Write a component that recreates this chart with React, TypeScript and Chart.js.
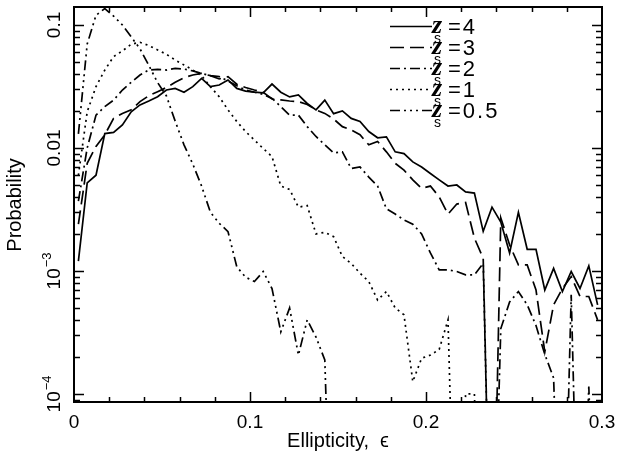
import React, { useEffect, useRef } from "react";
import { Chart, registerables } from "chart.js";

Chart.register(...registerables);

// Bin centres of the ellipticity histogram
const binCenters = [
  0.0025, 0.0075, 0.0125, 0.0175, 0.0225, 0.0275, 0.0325, 0.0375, 0.0425, 0.0475,
  0.0525, 0.0575, 0.0625, 0.0675, 0.0725, 0.0775, 0.0825, 0.0875, 0.0925, 0.0975,
  0.1025, 0.1075, 0.1125, 0.1175, 0.1225, 0.1275, 0.1325, 0.1375, 0.1425, 0.1475,
  0.1525, 0.1575, 0.1625, 0.1675, 0.1725, 0.1775, 0.1825, 0.1875, 0.1925, 0.1975,
  0.2025, 0.2075, 0.2125, 0.2175, 0.2225, 0.2275, 0.2325, 0.2375, 0.2425, 0.2475,
  0.2525, 0.2575, 0.2625, 0.2675, 0.2725, 0.2775, 0.2825, 0.2875, 0.2925, 0.2975,
];

// z_s = 4 (solid)
const zs4 = [
  0.0012, 0.0052, 0.006, 0.0131, 0.0134, 0.0154, 0.0197, 0.0224, 0.0241, 0.0261,
  0.0296, 0.0305, 0.0284, 0.0315, 0.0368, 0.0315, 0.0325, 0.0357, 0.0305, 0.029,
  0.0284, 0.028, 0.0331, 0.0284, 0.026, 0.027, 0.023, 0.0204, 0.0245, 0.019,
  0.02, 0.0174, 0.0164, 0.0136, 0.0121, 0.0123, 0.0093, 0.009, 0.0077, 0.007,
  0.0062, 0.0055, 0.0049, 0.005, 0.0044, 0.0043, 0.0021, 0.0033, 0.0025, 0.0014,
  0.003, 0.0015, 0.0015, 0.0007, 0.00105, 0.00068, 0.00099, 0.00072, 0.0011, 0.00053,
];

// z_s = 3 (dashed)
const zs3 = [
  0.0024, 0.0075, 0.0103, 0.0128, 0.0174, 0.0191, 0.0204, 0.0238, 0.0266, 0.0287,
  0.031, 0.0342, 0.0373, 0.0392, 0.0404, 0.0387, 0.0364, 0.038, 0.033, 0.031,
  0.0296, 0.0284, 0.025, 0.0246, 0.0241, 0.0238, 0.0226, 0.0204, 0.0191, 0.0172,
  0.0149, 0.014, 0.0128, 0.0106, 0.0113, 0.0093, 0.0075, 0.0066, 0.0055, 0.0047,
  0.0049, 0.004, 0.0029, 0.0035, 0.0036, 0.00185, 0.00127, 1e-6, 0.0027, 0.00163,
  0.00112, 0.00112, 0.0007, 0.00022, 0.00053, 0.00072, 0.0009, 0.00062, 0.00062, 0.0004,
];

// z_s = 2 (dash-dot)
const zs2 = [
  0.0037, 0.01, 0.0185, 0.0217, 0.0245, 0.0296, 0.0342, 0.0392, 0.043, 0.0435,
  0.043, 0.0444, 0.0438, 0.0423, 0.0404, 0.0387, 0.038, 0.0351, 0.0321, 0.0296,
  0.0284, 0.0273, 0.0253, 0.0217, 0.0185, 0.0185, 0.0149, 0.0124, 0.0106, 0.0091,
  0.0093, 0.0068, 0.007, 0.0058, 0.0049, 0.0032, 0.0029, 0.0026, 0.0024, 0.002,
  0.0014, 0.00102, 0.00102, 0.00099, 0.00093, 0.00093, 0.00115, 1e-6, 0.00034, 0.00056,
  0.00068, 0.00053, 0.00036, 0.00021, 0.000135, 1e-6, 0.00064, 1e-6, 0.000115, 1e-6,
];

// z_s = 1 (dotted)
const zs1 = [
  0.006, 0.0197, 0.0315, 0.043, 0.0553, 0.0615, 0.0697, 0.0723, 0.068, 0.0627,
  0.0578, 0.0519, 0.0473, 0.043, 0.0387, 0.0315, 0.0261, 0.0204, 0.0164, 0.0136,
  0.0116, 0.0099, 0.0085, 0.0049, 0.0046, 0.0033, 0.0034, 0.002, 0.00206, 0.0019,
  0.00131, 0.00115, 0.00096, 0.00082, 0.00058, 0.00068, 0.0005, 0.00044, 0.000126, 0.000195,
  0.000207, 0.00023, 0.0004, 1e-6, 0.0001, 0.0001, 1e-6,
];

// z_s = 0.5 (dash-dot-dot-dot)
const zs05 = [
  0.013, 0.07, 0.12, 0.136, 0.118, 0.1, 0.08, 0.064, 0.047, 0.034,
  0.0265, 0.0165, 0.0106, 0.0074, 0.0049, 0.003, 0.00244, 0.00209, 0.00108, 0.00089,
  0.00082, 0.00099, 0.00072, 0.00032, 0.0005, 0.000207, 0.0004, 0.00029, 0.000189, 1e-6,
];

const seriesLabels = ["4", "3", "2", "1", "0.5"];
const xTickValues = [0, 0.1, 0.2, 0.3];
const xTickLabels = ["0", "0.1", "0.2", "0.3"];
const yTickValues = [0.1, 0.01, 0.001, 0.0001];
const yTickLabels: [string, string][] = [["0.1", ""], ["0.01", ""], ["10", "\u22123"], ["10", "\u22124"]];

const dashes: number[][] = [
  [],
  [14, 6],
  [10, 4, 2, 4],
  [2, 4],
  [10, 4, 2, 4, 2, 4, 2, 4],
];

const SANS = '"Liberation Sans", Arial, Helvetica, "DejaVu Sans", sans-serif';

const framePlugin = {
  id: "idlFrame",
  afterDraw(chart: any) {
    const { ctx, chartArea: a, scales } = chart;
    const xs = scales.x;
    const ys = scales.y;
    ctx.save();
    ctx.strokeStyle = "#000";
    ctx.fillStyle = "#000";
    ctx.setLineDash([]);

    // ticks
    ctx.lineWidth = 1.5;
    ctx.beginPath();
    for (let i = 1; i < 15; i++) {
      const v = i * 0.02;
      const px = Math.round(xs.getPixelForValue(v)) + 0.5;
      const major = i % 5 === 0;
      const len = major ? 10 : 5;
      ctx.moveTo(px, a.bottom);
      ctx.lineTo(px, a.bottom - len);
      ctx.moveTo(px, a.top);
      ctx.lineTo(px, a.top + len);
    }
    for (let d = -5; d <= -1; d++) {
      for (let m = 1; m <= 9; m++) {
        const v = m * Math.pow(10, d);
        if (v < ys.min || v > ys.max) continue;
        const py = Math.round(ys.getPixelForValue(v)) + 0.5;
        const len = m === 1 ? 10 : 6;
        ctx.moveTo(a.left, py);
        ctx.lineTo(a.left + len, py);
        ctx.moveTo(a.right, py);
        ctx.lineTo(a.right - len, py);
      }
    }
    ctx.stroke();

    // frame
    ctx.lineWidth = 2;
    ctx.strokeRect(a.left, a.top, a.right - a.left, a.bottom - a.top);

    // x tick labels
    ctx.font = `19px ${SANS}`;
    ctx.textAlign = "center";
    ctx.textBaseline = "alphabetic";
    xTickValues.forEach((v, i) => {
      ctx.fillText(xTickLabels[i], xs.getPixelForValue(v), 428);
    });

    // y tick labels (rotated)
    yTickValues.forEach((v, i) => {
      const py = ys.getPixelForValue(v);
      const [base, sup] = yTickLabels[i];
      ctx.save();
      ctx.translate(60, py);
      ctx.rotate(-Math.PI / 2);
      ctx.textAlign = "left";
      ctx.font = `19px ${SANS}`;
      const wb = ctx.measureText(base).width;
      ctx.font = `13px ${SANS}`;
      const ws = sup ? ctx.measureText(sup).width + 1 : 0;
      const start = -(wb + ws) / 2;
      ctx.font = `19px ${SANS}`;
      ctx.fillText(base, start, 0);
      if (sup) {
        ctx.font = `13px ${SANS}`;
        ctx.fillText(sup, start + wb + 1, -9);
      }
      ctx.restore();
    });

    // axis titles
    ctx.font = `20px ${SANS}`;
    ctx.textAlign = "center";
    ctx.fillText("Ellipticity,  \u03F5", (a.left + a.right) / 2, 447);
    ctx.save();
    ctx.translate(21, 205);
    ctx.rotate(-Math.PI / 2);
    ctx.fillText("Probability", 0, 0);
    ctx.restore();

    // legend
    seriesLabels.forEach((lab, i) => {
      const y = 26 + 21 * i;
      ctx.save();
      ctx.lineWidth = 1.5;
      ctx.setLineDash(dashes[i]);
      ctx.beginPath();
      ctx.moveTo(390, y + 0.5);
      ctx.lineTo(432, y + 0.5);
      ctx.stroke();
      ctx.restore();
      ctx.textAlign = "left";
      ctx.font = `italic bold 26px "Liberation Serif", "DejaVu Serif", serif`;
      ctx.fillText("z", 432, y + 7);
      ctx.font = `14px ${SANS}`;
      ctx.fillText("s", 434, y + 17);
      ctx.save();
      (ctx as any).letterSpacing = "2px";
      ctx.font = `22px ${SANS}`;
      ctx.fillText("=" + lab, 448, y + 7.5);
      ctx.restore();
    });

    ctx.restore();
  },
};

function makeData(vals: number[]) {
  return vals.map((y, i) => ({ x: binCenters[i], y }));
}

export default function App() {
  const ref = useRef<HTMLCanvasElement | null>(null);
  useEffect(() => {
    if (!ref.current) return;
    const all = [zs4, zs3, zs2, zs1, zs05];
    const chart = new Chart(ref.current, {
      type: "line",
      data: {
        datasets: all.map((vals, i) => ({
          label: "z_s=" + seriesLabels[i],
          data: makeData(vals),
          borderColor: "#000",
          borderWidth: 1.7,
          borderDash: dashes[i],
          borderCapStyle: "butt",
          fill: false,
          pointRadius: 0,
          tension: 0,
        })),
      },
      options: {
        animation: false,
        responsive: false,
        layout: { padding: { left: 74, right: 16, top: 7, bottom: 63 } },
        scales: {
          x: { type: "linear", min: 0, max: 0.3, display: false },
          y: { type: "logarithmic", min: 8.6e-5, max: 0.14, display: false },
        },
        plugins: { legend: { display: false }, tooltip: { enabled: false } },
      },
      plugins: [framePlugin],
    } as any);
    return () => chart.destroy();
  }, []);
  return (
    <canvas
      ref={ref}
      width={618}
      height={465}
      style={{ position: "fixed", left: 0, top: 0, background: "#fff" }}
    />
  );
}
